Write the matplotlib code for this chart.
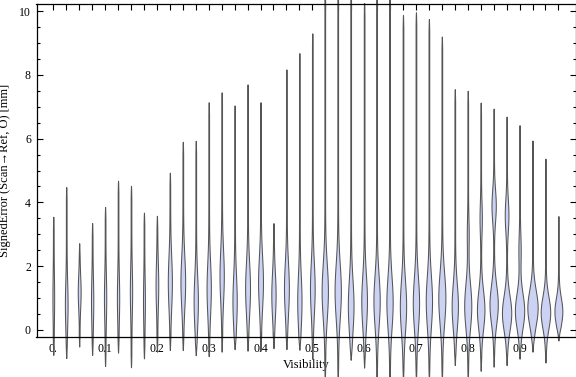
import numpy as np
import matplotlib
matplotlib.use("Agg")
import matplotlib.pyplot as plt
from matplotlib.ticker import MultipleLocator, FixedLocator

plt.rcParams['font.family'] = ['Liberation Serif', 'DejaVu Serif']

# visibility bins (one violin each)
visibility = [0.0, 0.025, 0.05, 0.075, 0.1, 0.125, 0.15, 0.175, 0.2, 0.225,
              0.25, 0.275, 0.3, 0.325, 0.35, 0.375, 0.4, 0.425, 0.45, 0.475,
              0.5, 0.525, 0.55, 0.575, 0.6, 0.625, 0.65, 0.675, 0.7, 0.725,
              0.75, 0.775, 0.8, 0.825, 0.85, 0.875, 0.9, 0.925, 0.95, 0.975]
# max / min of signed error per bin [mm]
err_max = [3.55, 4.48, 2.72, 3.35, 3.86, 4.68, 4.52, 3.68, 3.58, 4.93,
           5.90, 5.93, 7.14, 7.45, 7.04, 7.70, 7.14, 3.35, 8.17, 8.68,
           9.30, 11.5, 11.5, 11.5, 10.25, 11.5, 11.5, 9.87, 9.96, 9.75,
           9.20, 7.55, 7.50, 7.13, 6.94, 6.69, 6.42, 5.94, 5.37, 3.57]
err_min = [-0.78, -0.88, -0.52, -0.78, -1.13, -0.71, -1.17, -0.89, -0.68, -0.63,
           -0.63, -0.79, -0.82, -0.68, -0.60, -0.65, -0.65, -0.57, -0.60, -0.62,
           -0.90, -1.6, -1.6, -0.95, -1.18, -1.6, -1.6, -1.6, -1.6, -1.6,
           -1.6, -1.10, -1.6, -1.28, -1.15, -1.10, -0.90, -0.68, -1.02, -0.33]
# main bulge: centre [mm], half width [px], spread [mm]
mode1 = [1.0, 0.8, 1.2, 0.9, 1.0, 1.0, 1.2, 0.9, 1.4, 1.5,
         1.5, 0.9, 1.3, 1.7, 0.9, 1.3, 1.5, 1.1, 1.3, 0.9,
         1.3, 1.2, 1.2, 0.75, 0.9, 0.9, 0.85, 0.75, 0.85, 0.9,
         1.0, 0.75, 0.75, 0.63, 0.8, 0.53, 0.6, 0.7, 0.55, 0.58]
width1 = [0.5, 1.0, 1.1, 0.8, 0.8, 0.8, 0.8, 0.6, 1.0, 1.7,
          2.0, 1.8, 1.8, 1.8, 1.8, 2.1, 2.1, 1.8, 2.1, 1.8,
          2.0, 2.8, 2.8, 2.5, 2.5, 2.8, 2.8, 2.8, 2.8, 2.8,
          3.2, 2.8, 3.2, 3.4, 3.8, 4.3, 4.3, 4.8, 4.4, 3.6]
spread1 = [0.7, 0.7, 0.5, 0.7, 0.7, 0.7, 0.7, 0.7, 0.7, 0.8,
           0.8, 0.8, 0.8, 0.8, 0.8, 0.8, 0.8, 0.7, 0.8, 0.8,
           0.8, 0.85, 0.85, 0.8, 0.8, 0.8, 0.8, 0.8, 0.8, 0.8,
           0.8, 0.7, 0.7, 0.6, 0.6, 0.55, 0.55, 0.55, 0.5, 0.42]
# secondary bulge (only the high-visibility bins)
mode2 = [0]*32 + [3.0, 3.5, 3.9, 3.6, 2.5, 0, 0, 0]
width2 = [0]*32 + [0.6, 0.8, 1.8, 1.5, 0.8, 0, 0, 0]

xticklabels = ['0.', '0.1', '0.2', '0.3', '0.4', '0.5', '0.6', '0.7', '0.8', '0.9']

fig = plt.figure(figsize=(5.76, 3.77), dpi=100)
ax = fig.add_axes([36.5/576, 40/377, 539/576, 333/377])

px = 0.025 / 12.95   # data units per pixel horizontally
for i, v in enumerate(visibility):
    y = np.linspace(err_min[i], err_max[i], 300)
    w = 0.35 + width1[i] * np.exp(-0.5 * ((y - mode1[i]) / spread1[i])**2)
    if width2[i] > 0:
        w += width2[i] * np.exp(-0.5 * ((y - mode2[i]) / 0.5)**2)
    taper = np.clip(np.minimum(y - err_min[i], err_max[i] - y) / 0.4, 0, 1) ** 0.6
    w = w * taper * px
    ax.fill_betweenx(y, v - w, v + w, facecolor='#cbd2f3', edgecolor='#555555',
                     linewidth=0.75, clip_on=False, zorder=2)

ax.set_xlim(-0.0324, 1.008)
ax.set_ylim(-0.22, 10.22)

ax.xaxis.set_major_locator(FixedLocator(visibility[::4]))
ax.xaxis.set_minor_locator(FixedLocator(visibility))
ax.set_xticklabels(xticklabels)
ax.yaxis.set_major_locator(MultipleLocator(2))
ax.yaxis.set_minor_locator(MultipleLocator(0.5))

ax.tick_params(which='both', direction='in', top=True, right=True,
               labelsize=8.5, width=0.8, pad=4)
ax.tick_params(axis='x', which='both', length=4)
ax.tick_params(axis='y', which='major', length=4)
ax.tick_params(axis='y', which='minor', length=2.2)
for s in ax.spines.values():
    s.set_linewidth(0.9)

ax.set_xlabel('Visibility', fontsize=9, labelpad=3)
ax.set_ylabel('SignedError (Scan\u2192Ref, O) [mm]', fontsize=9, labelpad=6)

fig.savefig('out.png', dpi=100)
